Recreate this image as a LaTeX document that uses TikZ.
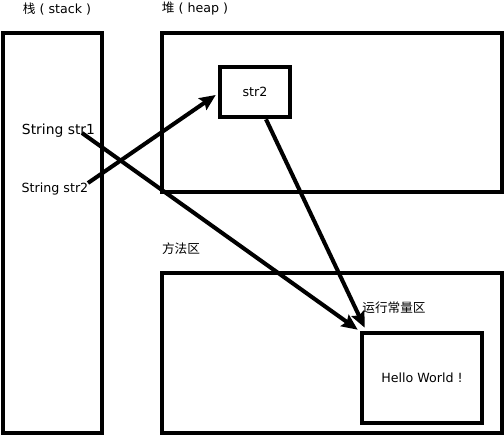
\documentclass[tikz,border=0pt]{standalone}
\usepackage{fontspec}
\setmainfont{DejaVu Sans}
\newfontfamily\cjk{Noto Sans CJK SC}
\usetikzlibrary{calc,arrows.meta}
\tikzset{
  area/.style={draw, line width=2.6pt, inner sep=0pt},
  lbl/.style={inner sep=0pt, font=\fontsize{7.2}{8}\selectfont},
  ptr/.style={line width=2.3pt, -{Stealth[length=0.32cm,width=0.28cm,inset=0.05cm]}}
}
\begin{document}
\begin{tikzpicture}[x=0.02cm, y=-0.02cm]
		%%%%% START %%%%%
		\useasboundingbox (0, 0) rectangle (504, 435);
		
		% areas
		\node[area, minimum width=1.98cm, minimum height=8cm] (stack) at (52.5, 233) {};
		\node[area, minimum width=6.8cm, minimum height=3.18cm] (heap) at (332, 112.5) {};
		\node[area, minimum width=6.8cm, minimum height=3.2cm] (method) at (332, 353) {};
		
		\node[lbl] (stacktitle) at (57, 9) {{\cjk 栈} ( stack )};
		\node[lbl] (heaptitle) at (195, 9) {{\cjk 堆} ( heap )};
		\node[lbl] (methodtitle) at (181, 249) {\cjk 方法区};
		\node[lbl] (pooltitle) at (394, 308) {\cjk 运行常量区};
		
		% objects
		\node[area, minimum width=1.4cm, minimum height=1cm, font=\fontsize{7.2}{8}\selectfont] (strbox) at (255, 92) {str2};
		\node[area, minimum width=2.4cm, minimum height=1.8cm, font=\fontsize{7.2}{8}\selectfont] (hello) at (422, 378) {Hello World !};
		
		% references
		\node[lbl, font=\fontsize{7.9}{9}\selectfont] (str1) at (58.5, 130.5) {String str1};
		\node[lbl] (str2) at (55, 189.5) {String str2};
		\coordinate (s1) at (82, 133);
		\coordinate (s2) at (88, 183);
		\coordinate (boxout) at ($(strbox.south)+(11, 0)$);
		
		\draw[ptr] (s2) -- ($(strbox.west)+(-2, 3)$);
		\draw[ptr] (s1) -- ($(hello.north west)+(-2, -1)$);
		\draw[ptr] (boxout) -- ($(hello.north west)+(5, -3)$);
		
		%%%%% END %%%%%
	\end{tikzpicture}
\end{document}
